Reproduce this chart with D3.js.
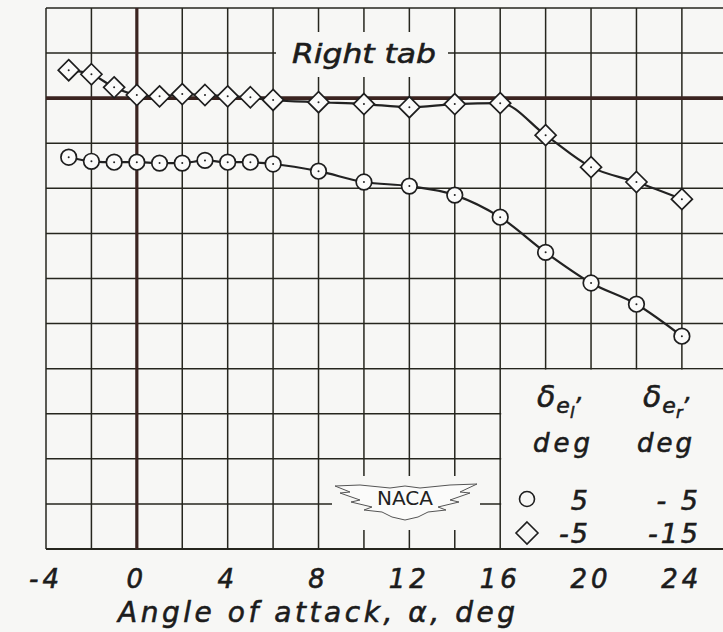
<!DOCTYPE html>
<html>
<head>
<meta charset="utf-8">
<script src="https://cdn.jsdelivr.net/npm/d3@7"></script>
<style>
  html, body { margin: 0; padding: 0; background: #f7f7f5; }
  svg { display: block; }
  text.it { font-family: "DejaVu Sans", sans-serif; font-style: italic; fill: #1c1c1c; stroke: #1c1c1c; stroke-width: 0.6px; }
  text.logo { font-family: "DejaVu Sans", sans-serif; font-style: normal; fill: #222; }
</style>
</head>
<body>
<svg id="chart" width="723" height="632"></svg>
<script>
// ---- data ----
const alpha = [-3, -2, -1, 0, 1, 2, 3, 4, 5, 6, 8, 10, 12, 14, 16, 18, 20, 22, 24];
// values in grid units (one grid division = 1), zero = heavy reference line
const circleSeries  = [-1.31, -1.40, -1.42, -1.42, -1.44, -1.44, -1.38, -1.42, -1.42, -1.46,
                       -1.62, -1.86, -1.95, -2.15, -2.64, -3.42, -4.10, -4.57, -5.28];
const diamondSeries = [0.62, 0.53, 0.24, 0.07, 0.04, 0.09, 0.07, 0.04, 0.02, -0.04,
                       -0.09, -0.13, -0.20, -0.13, -0.11, -0.82, -1.53, -1.86, -2.24];
const xTicks = [-4, 0, 4, 8, 12, 16, 20, 24];
const xGrid = [-4, -2, 0, 2, 4, 6, 8, 10, 12, 14, 16, 18, 20, 22, 24, 26];
const yGrid = [2, 1, 0, -1, -2, -3, -4, -5, -6, -7, -8, -9, -10];
const legendLeft  = ["5", "-5"];
const legendRight = ["- 5", "-15"];

// ---- scales ----
const x = d3.scaleLinear().domain([-4, 26]).range([46, 46 + 30 * 22.71]);
const y = d3.scaleLinear().domain([2, -10]).range([8, 549]);

const svg = d3.select("#chart");
const W = 723;
const gridColor = "#26261e";
const heavy = "#3b2420";

// grid
const g = svg.append("g");
g.selectAll("line.v").data(xGrid).join("line")
  .attr("x1", d => x(d)).attr("x2", d => x(d))
  .attr("y1", y(2)).attr("y2", y(-10))
  .attr("stroke", gridColor).attr("stroke-width", 1.5);
g.selectAll("line.h").data(yGrid).join("line")
  .attr("x1", x(-4)).attr("x2", W)
  .attr("y1", d => y(d)).attr("y2", d => y(d))
  .attr("stroke", gridColor).attr("stroke-width", d => d === -10 ? 2 : 1.5);

// heavy zero lines
g.append("line").attr("x1", x(0)).attr("x2", x(0)).attr("y1", y(2)).attr("y2", y(-10))
  .attr("stroke", heavy).attr("stroke-width", 3.2);
g.append("line").attr("x1", x(-4)).attr("x2", W).attr("y1", y(0)).attr("y2", y(0))
  .attr("stroke", heavy).attr("stroke-width", 3.8);

// white masks (label box, legend box, logo box)
const bg = "#f7f7f5";
svg.append("rect").attr("x", 276).attr("y", 32).attr("width", 172).attr("height", 45).attr("fill", bg);
svg.append("rect").attr("x", x(16) + 1).attr("y", y(-6) + 1)
  .attr("width", W - x(16)).attr("height", y(-10) - y(-6) - 2).attr("fill", bg);
svg.append("rect").attr("x", 332).attr("y", 476).attr("width", 148).attr("height", 54).attr("fill", bg);

// data lines
const line = d3.line().x(d => x(d[0])).y(d => y(d[1])).curve(d3.curveMonotoneX);
const cPts = alpha.map((a, i) => [a, circleSeries[i]]);
const dPts = alpha.map((a, i) => [a, diamondSeries[i]]);
svg.append("path").attr("d", line(cPts)).attr("fill", "none").attr("stroke", "#222").attr("stroke-width", 2.2);
svg.append("path").attr("d", line(dPts)).attr("fill", "none").attr("stroke", "#222").attr("stroke-width", 2.2);

// markers
const mk = svg.append("g");
mk.selectAll("circle.c").data(cPts).join("circle")
  .attr("cx", d => x(d[0])).attr("cy", d => y(d[1])).attr("r", 7.8)
  .attr("fill", "#fbfbfa").attr("stroke", "#1e1e1e").attr("stroke-width", 1.7);
const dia = s => `M0,${-s}L${s},0L0,${s}L${-s},0Z`;
mk.selectAll("path.d").data(dPts).join("path")
  .attr("transform", d => `translate(${x(d[0])},${y(d[1])})`)
  .attr("d", dia(10.5))
  .attr("fill", "#fbfbfa").attr("stroke", "#1e1e1e").attr("stroke-width", 1.7);
mk.selectAll("circle.dot").data(cPts.concat(dPts)).join("circle")
  .attr("cx", d => x(d[0])).attr("cy", d => y(d[1])).attr("r", 1)
  .attr("fill", "#222");

// annotation
svg.append("text").attr("class", "it").attr("x", 292).attr("y", 63).attr("font-size", 27)
  .attr("textLength", 144).attr("lengthAdjust", "spacingAndGlyphs").text("Right tab");

// x tick labels
svg.append("g").selectAll("text").data(xTicks).join("text").attr("class", "it")
  .attr("x", d => x(d)).attr("y", 588).attr("text-anchor", "middle")
  .attr("font-size", 26).attr("letter-spacing", 4)
  .text(d => d);
svg.append("text").attr("class", "it").attr("x", 118).attr("y", 622).attr("font-size", 28)
  .attr("textLength", 397).attr("lengthAdjust", "spacing")
  .text("Angle of attack, \u03b1, deg");

// legend
const lg = svg.append("g");
function header(x0, sub) {
  const t = lg.append("text").attr("class", "it").attr("x", x0).attr("y", 407);
  t.append("tspan").attr("font-size", 30).text("\u03b4");
  t.append("tspan").attr("font-size", 22).attr("dx", 1).attr("dy", 6).text("e");
  t.append("tspan").attr("font-size", 16).attr("dx", 0).attr("dy", 5).text(sub);
  t.append("tspan").attr("font-size", 24).attr("dx", 2).attr("dy", -18).text(",");
}
header(537, "l");
header(643, "r");
lg.append("text").attr("class", "it").attr("x", 533).attr("y", 452).attr("font-size", 26)
  .attr("textLength", 57).attr("lengthAdjust", "spacing").text("deg");
lg.append("text").attr("class", "it").attr("x", 637).attr("y", 452).attr("font-size", 26)
  .attr("textLength", 55).attr("lengthAdjust", "spacing").text("deg");
lg.append("circle").attr("cx", 527).attr("cy", 499).attr("r", 7.5)
  .attr("fill", "none").attr("stroke", "#1e1e1e").attr("stroke-width", 1.6);
lg.append("path").attr("transform", "translate(527,533)").attr("d", dia(11))
  .attr("fill", "none").attr("stroke", "#1e1e1e").attr("stroke-width", 1.6);
const rowY = [510, 543];
lg.selectAll("text.l").data(legendLeft).join("text").attr("class", "it")
  .attr("x", 590).attr("y", (d, i) => rowY[i]).attr("text-anchor", "end")
  .attr("font-size", 27).attr("letter-spacing", 2).text(d => d);
lg.selectAll("text.r").data(legendRight).join("text").attr("class", "it")
  .attr("x", 701).attr("y", (d, i) => rowY[i]).attr("text-anchor", "end")
  .attr("font-size", 27).attr("letter-spacing", 3).text(d => d);

// NACA logo
const logo = svg.append("g").attr("transform", "translate(320,465)");
const wing = [[15,21],[40,20],[70,23],[85,21],[100,23],[130,20],[157,19],
  [140,27],[150,28],[130,35],[139,37],[118,42],[126,45],[108,47],[98,52],[85,55],
  [72,52],[62,47],[44,45],[52,42],[31,37],[40,35],[20,28],[30,27],[15,21]];
logo.append("path").attr("d", d3.line()(wing)).attr("fill", "#fbfbfa")
  .attr("stroke", "#555").attr("stroke-width", 1);
logo.append("text").attr("class", "logo").attr("x", 85).attr("y", 40).attr("text-anchor", "middle")
  .attr("font-size", 19).attr("textLength", 56)
  .attr("lengthAdjust", "spacingAndGlyphs").text("NACA");
</script>
</body>
</html>
